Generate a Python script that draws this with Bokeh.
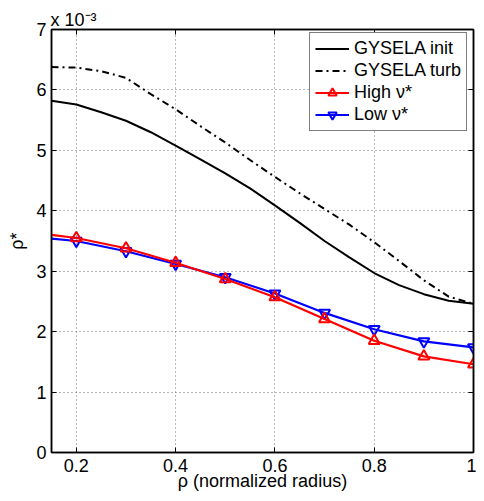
from bokeh.plotting import figure
from bokeh.models import LinearAxis, Legend, LegendItem, Range1d, FixedTicker
from bokeh.embed import file_html
from bokeh.resources import INLINE

# ---- data (values in units of 1e-3) ----
rho_fine = [0.15, 0.2, 0.25, 0.3, 0.35, 0.4, 0.45, 0.5, 0.55, 0.6,
            0.65, 0.7, 0.75, 0.8, 0.85, 0.9, 0.95, 1.0]
gysela_init = [5.82, 5.76, 5.63, 5.49, 5.30, 5.08, 4.85, 4.62, 4.37, 4.09,
               3.80, 3.50, 3.23, 2.97, 2.77, 2.62, 2.51, 2.46]
gysela_turb = [6.38, 6.37, 6.31, 6.20, 5.93, 5.68, 5.40, 5.13, 4.84, 4.56,
               4.29, 4.03, 3.77, 3.48, 3.17, 2.85, 2.58, 2.46]

rho_pts = [0.2, 0.3, 0.4, 0.5, 0.6, 0.7, 0.8, 0.9, 1.0]
high_nu = [3.55, 3.38, 3.14, 2.87, 2.57, 2.21, 1.85, 1.59, 1.46]
low_nu = [3.50, 3.33, 3.12, 2.90, 2.63, 2.31, 2.04, 1.84, 1.74]
rho_start = 0.15
high_start = 3.60
low_start = 3.54

x_ticks = [0.2, 0.4, 0.6, 0.8, 1.0]
y_ticks = [0, 1, 2, 3, 4, 5, 6, 7]

FONT = "Liberation Sans"

p = figure(width=476, height=497, output_backend="svg", toolbar_location=None,
           x_range=Range1d(0.15, 1.0), y_range=Range1d(0, 7),
           min_border_left=51, min_border_right=3, min_border_top=29, min_border_bottom=45,
           x_axis_label="ρ (normalized radius)", y_axis_label="ρ*",
           title="x 10⁻³")
p.title.align = "left"
p.title.offset = -1
p.title.standoff = 0
p.title.text_font = FONT
p.title.text_font_size = "18px"
p.title.text_font_style = "normal"
p.title.text_color = "black"

p.background_fill_color = "white"
p.border_fill_color = "white"
p.outline_line_color = "black"
p.outline_line_width = 1.5

for ax in p.xaxis + p.yaxis:
    ax.major_tick_in = 5
    ax.major_tick_out = 0
    ax.minor_tick_in = 0
    ax.minor_tick_out = 0
    ax.axis_line_color = "black"
    ax.axis_line_width = 1.5
    ax.major_label_text_font = FONT
    ax.major_label_text_font_size = "18px"
    ax.major_label_text_color = "black"
    ax.axis_label_text_font = FONT
    ax.axis_label_text_font_size = "18px"
    ax.axis_label_text_font_style = "normal"
    ax.axis_label_text_color = "black"

p.xaxis.ticker = FixedTicker(ticks=x_ticks)
p.yaxis.ticker = FixedTicker(ticks=y_ticks)
p.xaxis.major_label_overrides = {1.0: "1"}
p.xaxis.major_label_standoff = 6
p.xaxis.axis_label_standoff = -4
p.yaxis.major_label_standoff = 5
p.yaxis.axis_label_standoff = 6

# mirrored ticks on top and right
top = LinearAxis(ticker=FixedTicker(ticks=x_ticks), major_tick_in=5, major_tick_out=0,
                 minor_tick_in=0, minor_tick_out=0, major_label_text_font_size="1px",
                 major_label_overrides={t: "" for t in x_ticks},
                 major_label_standoff=0, axis_line_color="black", axis_line_width=1.5)
right = LinearAxis(ticker=FixedTicker(ticks=y_ticks), major_tick_in=5, major_tick_out=0,
                   minor_tick_in=0, minor_tick_out=0, major_label_text_font_size="1px",
                   major_label_overrides={t: "" for t in y_ticks},
                   major_label_standoff=0, axis_line_color="black", axis_line_width=1.5)
p.add_layout(top, "above")
p.add_layout(right, "right")

for g in (p.xgrid[0], p.ygrid[0]):
    g.grid_line_color = "#707070"
    g.grid_line_dash = "1 3"
    g.grid_line_width = 1
p.xgrid.ticker = FixedTicker(ticks=x_ticks)
p.ygrid.ticker = FixedTicker(ticks=y_ticks)

r_init = p.line(rho_fine, gysela_init, line_color="black", line_width=2)
r_turb = p.line(rho_fine, gysela_turb, line_color="black", line_width=2, line_dash="7 4 2 4")

hx = [rho_start] + rho_pts
r_low_l = p.line(hx, [low_start] + low_nu, line_color="blue", line_width=2.2)
r_low_m = p.scatter(rho_pts, low_nu, marker="inverted_triangle", size=11, line_color="blue",
                    line_width=2, fill_color="white", fill_alpha=0.0)
r_high_l = p.line(hx, [high_start] + high_nu, line_color="red", line_width=2.2)
r_high_m = p.scatter(rho_pts, high_nu, marker="triangle", size=11, line_color="red",
                     line_width=2, fill_color="white", fill_alpha=0.0)

legend = Legend(items=[
    LegendItem(label="GYSELA init", renderers=[r_init]),
    LegendItem(label="GYSELA turb", renderers=[r_turb]),
    LegendItem(label="High ν*", renderers=[r_high_l, r_high_m]),
    LegendItem(label="Low ν*", renderers=[r_low_l, r_low_m]),
], location=(258, 321))
legend.label_text_font = FONT
legend.label_text_font_size = "18px"
legend.label_text_color = "black"
legend.border_line_color = "black"
legend.border_line_width = 1.5
legend.background_fill_color = "white"
legend.background_fill_alpha = 1.0
legend.glyph_width = 34
legend.glyph_height = 21
legend.label_height = 21
legend.label_standoff = 5
legend.spacing = 1
legend.padding = 5
legend.margin = 0
p.add_layout(legend, "center")

open("out.html", "w").write(file_html(p, INLINE))
